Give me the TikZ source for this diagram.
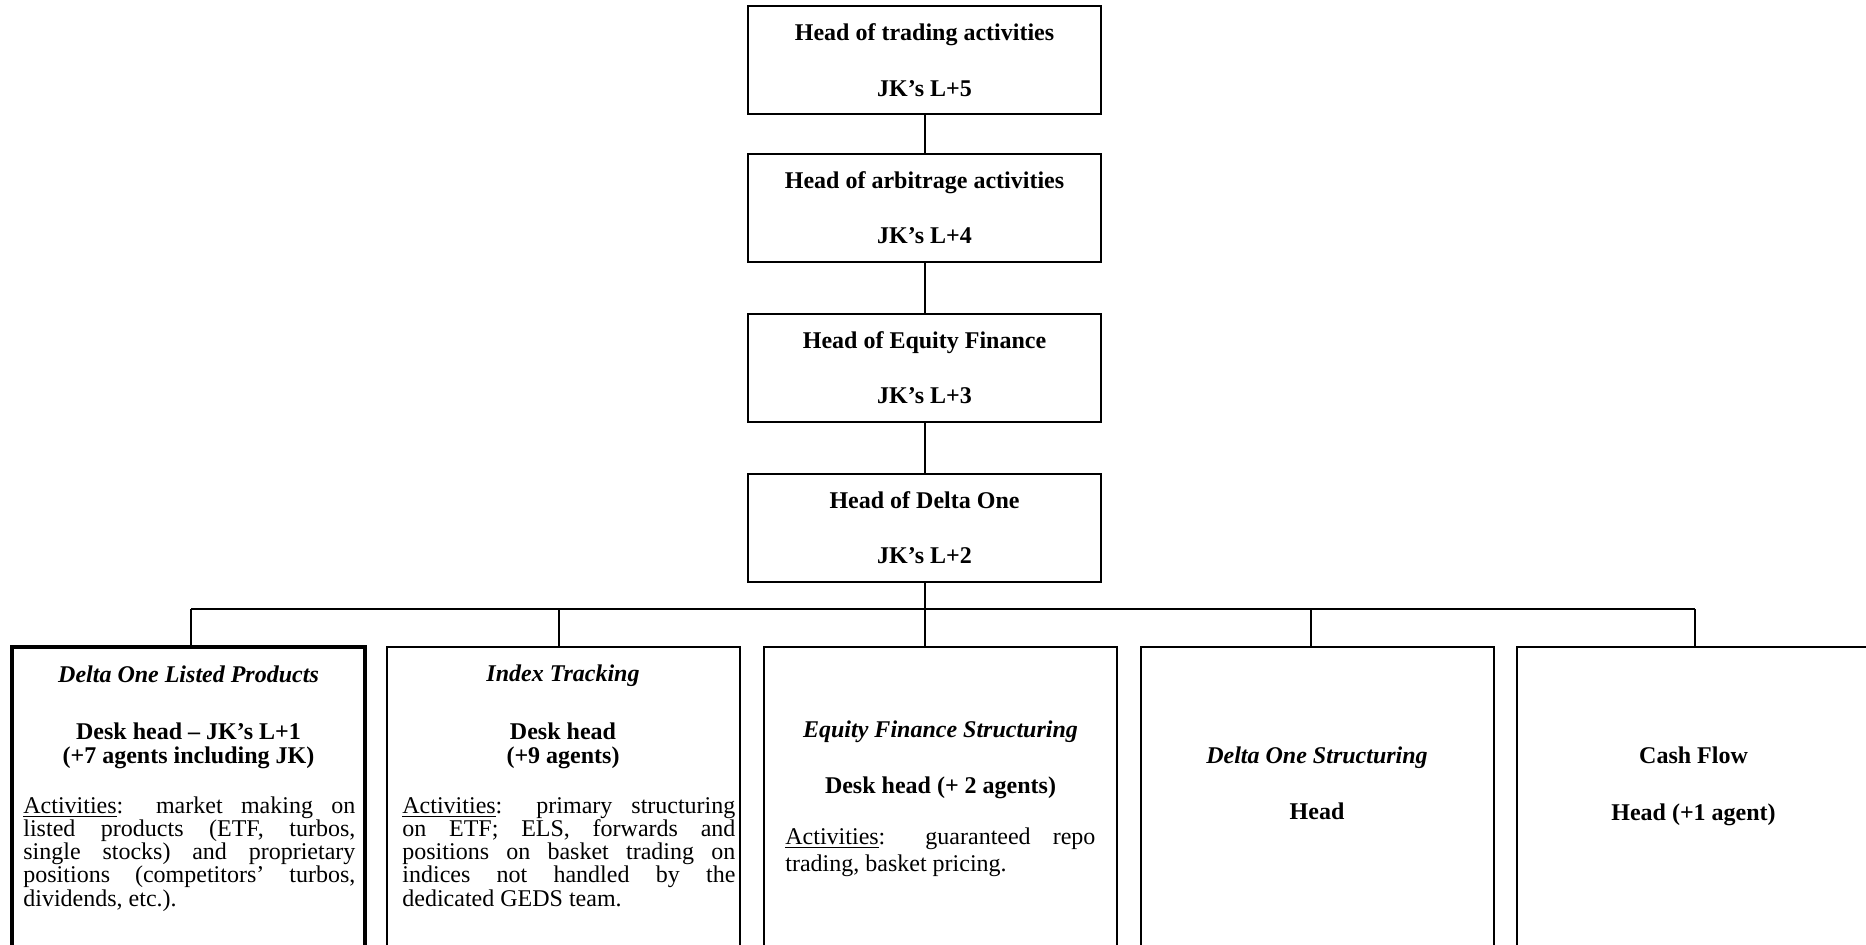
\documentclass[tikz,border=0pt]{standalone}
\usepackage{fontspec}
\setmainfont{Liberation Serif}
\hyphenpenalty=10000
\exhyphenpenalty=10000
\tolerance=10000
\hbadness=10000
\begin{document}
\begin{tikzpicture}[x=0.5pt,y=-0.5pt,
  topbox/.style={draw,line width=1pt,minimum width=176.5pt,minimum height=54pt,inner sep=0pt},
  botbox/.style={draw,line width=1pt,minimum width=176.5pt,minimum height=176.5pt,inner sep=0pt},
  conn/.style={line width=1pt},
  hd/.style={anchor=base,inner sep=0pt,font=\fontsize{12}{14}\selectfont\bfseries},
  ttl/.style={anchor=base,inner sep=0pt,font=\fontsize{12}{14}\selectfont\bfseries\itshape},
  body/.style={anchor=base west,inner sep=0pt,align=justify,font=\fontsize{12}{11.65}\selectfont}]
\clip (0,0) rectangle (1866,945);
\fill[white] (0,0) rectangle (1866,945);
% top chain
\node[topbox] (h5) at (924.5,60.5) {};
\node[topbox] (h4) at (924.5,208) {};
\node[topbox] (h3) at (924.5,368) {};
\node[topbox] (h2) at (924.5,528) {};
\node[hd] (t5a) at (924.5,41) {Head of trading activities};
\node[hd] (t5b) at (924.5,97) {JK’s L+5};
\node[hd] (t4a) at (924.5,189) {Head of arbitrage activities};
\node[hd] (t4b) at (924.5,244) {JK’s L+4};
\node[hd] (t3a) at (924.5,349) {Head of Equity Finance};
\node[hd] (t3b) at (924.5,404) {JK’s L+3};
\node[hd] (t2a) at (924.5,509) {Head of Delta One};
\node[hd] (t2b) at (924.5,564) {JK’s L+2};
\draw[conn] (h5.south) -- (h4.north);
\draw[conn] (h4.south) -- (h3.north);
\draw[conn] (h3.south) -- (h2.north);
% bottom boxes
\node[botbox,line width=2pt] (dA) at (188.5,823.5) {};
\node[botbox] (dB) at (563,823.5) {};
\node[botbox] (dC) at (940.5,823.5) {};
\node[botbox] (dD) at (1317,823.5) {};
\node[botbox] (dE) at (1693.5,823.5) {};
% bus
\coordinate (j1) at (191,609);
\coordinate (j2) at (559,609);
\coordinate (j3) at (924.5,609);
\coordinate (j4) at (1311,609);
\coordinate (j5) at (1695,609);
\draw[conn] (h2.south) -- (j3);
\draw[conn] (j1) -- (j5);
\draw[conn] (j1) -- (j1 |- dA.north);
\draw[conn] (j2) -- (j2 |- dB.north);
\draw[conn] (j3) -- (j3 |- dC.north);
\draw[conn] (j4) -- (j4 |- dD.north);
\draw[conn] (j5) -- (j5 |- dE.north);
% box A
\node[ttl] (aT) at (188.5,682) {Delta One Listed Products};
\node[hd] (aH1) at (188.5,739) {Desk head – JK’s L+1};
\node[hd] (aH2) at (188.5,763) {(+7 agents including JK)};
\node[body,text width=166pt] (aB) at (23,813) {\underline{Activities}: market making on\linebreak listed products (ETF, turbos,\linebreak single stocks) and proprietary\linebreak positions (competitors’ turbos,\linebreak dividends, etc.).};
% box B
\node[ttl] (bT) at (563,681) {Index Tracking};
\node[hd] (bH1) at (563,739) {Desk head};
\node[hd] (bH2) at (563,763) {(+9 agents)};
\node[body,text width=166.5pt] (bB) at (402,813) {\underline{Activities}: primary structuring\linebreak on ETF; ELS, forwards and\linebreak positions on basket trading on\linebreak indices not handled by the\linebreak dedicated GEDS team.};
% box C
\node[ttl] (cT) at (940.5,737) {Equity Finance Structuring};
\node[hd] (cH1) at (940.5,793) {Desk head (+ 2 agents)};
\node[body,text width=155pt,font=\fontsize{12}{13.5}\selectfont] (cB) at (785,844) {\underline{Activities}: guaranteed repo\linebreak trading, basket pricing.};
% box D
\node[ttl] (dT) at (1317,763) {Delta One Structuring};
\node[hd] (dH1) at (1317,819) {Head};
% box E
\node[hd] (eT) at (1693.5,763) {Cash Flow};
\node[hd] (eH1) at (1693.5,820) {Head (+1 agent)};
\end{tikzpicture}
\end{document}
